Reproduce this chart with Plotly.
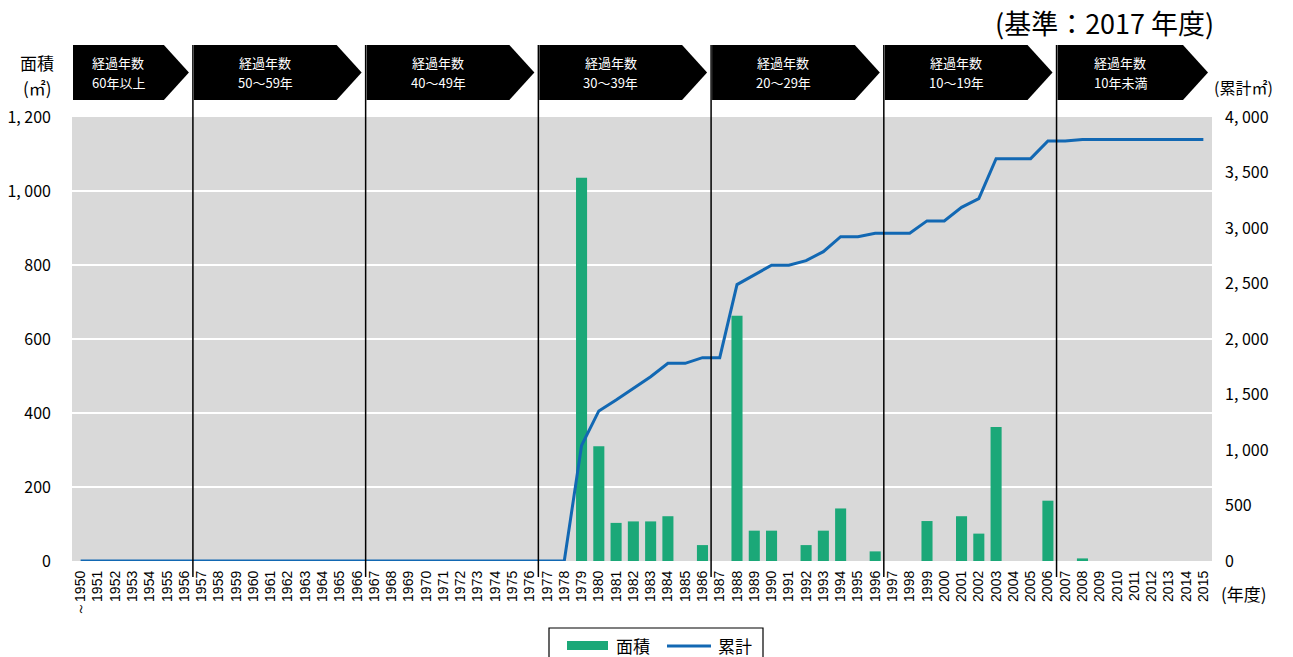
import plotly.graph_objects as go

# ---------------- data ----------------
categories = ["～1950"] + [str(y) for y in range(1951, 2016)]

area = [
    0, 0, 0, 0, 0, 0, 0, 0, 0, 0,          # ~1950-1959
    0, 0, 0, 0, 0, 0, 0, 0, 0, 0,          # 1960-1969
    0, 0, 0, 0, 0, 0, 0, 0, 0, 1036,       # 1970-1979
    310, 103, 107, 107, 121, 0, 43, 0, 663, 82,   # 1980-1989
    82, 0, 43, 82, 142, 0, 26, 0, 0, 108,  # 1990-1999
    0, 121, 74, 362, 0, 0, 163, 0, 7, 0,   # 2000-2009
    0, 0, 0, 0, 0, 0,                      # 2010-2015
]

cumulative = [
    0, 0, 0, 0, 0, 0, 0, 0, 0, 0,
    0, 0, 0, 0, 0, 0, 0, 0, 0, 0,
    0, 0, 0, 0, 0, 0, 0, 0, 0, 1040,
    1352, 1451, 1552, 1660, 1781, 1781, 1832, 1832, 2490, 2577,
    2665, 2665, 2706, 2787, 2922, 2922, 2952, 2952, 2952, 3064,
    3064, 3186, 3264, 3625, 3625, 3625, 3784, 3784, 3797, 3797,
    3797, 3797, 3797, 3797, 3797, 3797,
]

left_tickvals = [0, 200, 400, 600, 800, 1000, 1200]
left_ticktext = ["0", "200", "400", "600", "800", "1, 000", "1, 200"]
right_tickvals = [0, 500, 1000, 1500, 2000, 2500, 3000, 3500, 4000]
right_ticktext = ["0", "500", "1, 000", "1, 500", "2, 000", "2, 500", "3, 000", "3, 500", "4, 000"]

period_labels = ["60年以上", "50～59年", "40～49年", "30～39年", "20～29年", "10～19年", "10年未満"]
period_boundaries = [-0.5, 6.5, 16.5, 26.5, 36.5, 46.5, 56.5, 65.5]  # category index boundaries

# ---------------- layout geometry ----------------
W, H = 1293, 657
L, R, T, B = 72, 1212, 117, 561
PW, PH = R - L, B - T
JP = "Noto Sans CJK JP"
BAR_COLOR = "#1ba878"
LINE_COLOR = "#1268b3"


def fx(px):
    return (px - L) / PW


def fy(py):
    return (B - py) / PH


def note(xpx, ypx, text, size, color="black"):
    return dict(x=fx(xpx), y=fy(ypx), xref="paper", yref="paper", text=text,
                showarrow=False, xanchor="center", yanchor="middle",
                font=dict(family=JP, size=size, color=color))


fig = go.Figure()
fig.add_trace(go.Bar(
    x=categories, y=area, name="面積", marker_color=BAR_COLOR,
    marker_line=dict(width=0), yaxis="y", showlegend=False,
))
fig.add_trace(go.Scatter(
    x=categories, y=cumulative, name="累計", mode="lines",
    line=dict(color=LINE_COLOR, width=3), yaxis="y2", showlegend=False,
))

shapes = []
annotations = []

ncat = len(categories)
# period arrows
for i, lab in enumerate(period_labels):
    b0 = period_boundaries[i]
    b1 = period_boundaries[i + 1]
    x0 = (b0 + 0.5) / ncat + 1 / PW
    xp = (b1 + 0.5) / ncat - 4 / PW
    xf = xp - 25 / PW
    yt, yb, ym = fy(45), fy(100), fy(72.5)
    path = f"M {x0},{yb} L {xf},{yb} L {xp},{ym} L {xf},{yt} L {x0},{yt} Z"
    shapes.append(dict(type="path", path=path, xref="paper", yref="paper",
                       fillcolor="black", line=dict(width=0), layer="above"))
    xc_px = L + (x0 + xf) / 2 * PW
    annotations.append(note(xc_px, 62, "経過年数", 13, "white"))
    annotations.append(note(xc_px, 82, lab, 13, "white"))

# vertical separators
for b in period_boundaries[1:-1]:
    shapes.append(dict(type="line", xref="x", yref="paper", x0=b, x1=b,
                       y0=fy(577), y1=fy(45), line=dict(color="black", width=1.5), layer="above"))

# axis titles & notes
annotations += [
    note(37, 62, "面積", 17),
    note(37, 87, "(㎡)", 17),
    note(1243, 87, "(累計㎡)", 16),
    note(1244, 593, "(年度)", 17),
    note(1104, 23, "(基準：2017 年度)", 27),
]

# custom legend
shapes += [
    dict(type="rect", xref="paper", yref="paper", x0=fx(549), x1=fx(763), y0=fy(628), y1=fy(664),
         line=dict(color="black", width=1.2), fillcolor="white"),
    dict(type="rect", xref="paper", yref="paper", x0=fx(567), x1=fx(608), y0=fy(641), y1=fy(650),
         line=dict(width=0), fillcolor=BAR_COLOR),
    dict(type="line", xref="paper", yref="paper", x0=fx(667), x1=fx(711), y0=fy(646), y1=fy(646),
         line=dict(color=LINE_COLOR, width=3)),
]
annotations += [
    note(633, 645, "面積", 17),
    note(735, 645, "累計", 17),
]

fig.update_layout(
    width=W, height=H,
    margin=dict(l=L, r=W - R, t=T, b=H - B, pad=0, autoexpand=False),
    paper_bgcolor="white", plot_bgcolor="#d9d9d9",
    bargap=0.36,
    showlegend=False,
    xaxis=dict(type="category", tickangle=-90, showgrid=False, zeroline=False,
               tickfont=dict(family="Liberation Sans", size=14, color="black"),
               ticks="", ticklabelstandoff=6, range=[-0.5, 65.5], showline=False,
               automargin=False),
    yaxis=dict(range=[0, 1200], tickvals=left_tickvals, ticktext=left_ticktext,
               showgrid=True, gridcolor="white", gridwidth=2, zeroline=False,
               tickfont=dict(family=JP, size=16, color="black"), ticks="",
               ticklabelstandoff=20, automargin=False),
    yaxis2=dict(range=[0, 4000], overlaying="y", side="right", tickvals=right_tickvals,
                ticktext=right_ticktext, showgrid=False, zeroline=False,
                tickfont=dict(family=JP, size=16, color="black"), ticks="",
                ticklabelstandoff=12, automargin=False),
    shapes=shapes,
    annotations=annotations,
)

fig.write_html("out.html")
